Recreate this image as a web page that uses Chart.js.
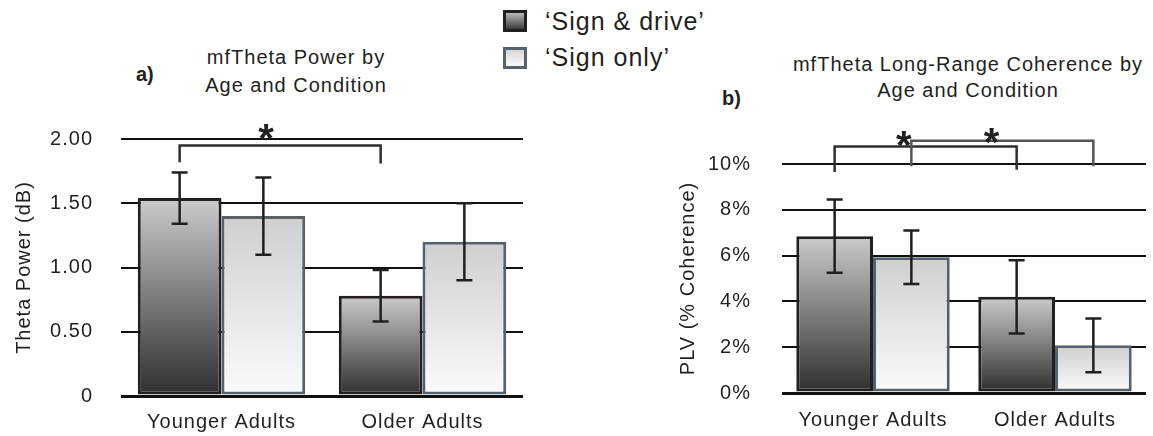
<!DOCTYPE html>
<html>
<head>
<meta charset="utf-8">
<title>mfTheta power and coherence by age and condition</title>
<script src="https://cdn.jsdelivr.net/npm/chart.js@4.4.0/dist/chart.umd.min.js"></script>
<style>
  html, body { margin: 0; padding: 0; background: #fff; }
  body { width: 1153px; height: 436px; position: relative; overflow: hidden;
         font-family: "Liberation Sans", Arial, Helvetica, sans-serif; color: #231f20; }
  .txt { position: absolute; white-space: nowrap; letter-spacing: 1px; }
  .title { font-size: 20px; text-align: center; transform: translateX(-50%); }
  .panel { font-size: 20px; font-weight: bold; letter-spacing: 0; }
  .key { position: absolute; left: 503px; width: 18px; height: 16px; border: 3px solid; }
  .key-text { font-size: 25px; line-height: 28px; left: 545px; }
  canvas { position: absolute; top: 0; }
</style>
</head>
<body>

<div class="txt panel" style="left:136px; top:63px">a)</div>
<div class="txt title" style="left:296px; top:43px; line-height:28px">mfTheta Power by<br>Age and Condition</div>

<div class="txt panel" style="left:722px; top:87px">b)</div>
<div class="txt title" style="left:968px; top:51px; line-height:26px">mfTheta Long-Range Coherence by<br>Age and Condition</div>

<!-- shared legend in the middle -->
<div class="key" style="top:10px; border-color:#231f20; background:linear-gradient(#b8b8b8, #3a3a3a)"></div>
<div class="txt key-text" style="top:7px">‘Sign &amp; drive’</div>
<div class="key" style="top:47px; border-color:#56616c; background:linear-gradient(#d6d6d6, #fafafa)"></div>
<div class="txt key-text" style="top:43px">‘Sign only’</div>

<canvas id="powerChart" width="545" height="436" style="left:0"></canvas>
<canvas id="plvChart" width="483" height="436" style="left:670px"></canvas>

<script>
const groups = ['Younger Adults', 'Older Adults'];
const seriesNames = ['‘Sign & drive’', '‘Sign only’'];

// a) mfTheta power, dB
const powerSignDrive = [1.54, 0.78];
const powerSignOnly = [1.40, 1.20];
const powerSignDriveErr = [0.20, 0.20];
const powerSignOnlyErr = [0.30, 0.30];
const powerTicks = ['0', '0.50', '1.00', '1.50', '2.00'];

// b) mfTheta long-range coherence, PLV in %
const plvSignDrive = [6.85, 4.20];
const plvSignOnly = [5.93, 2.08];
const plvSignDriveErr = [1.60, 1.60];
const plvSignOnlyErr = [1.17, 1.17];
const plvTicks = ['0%', '2%', '4%', '6%', '8%', '10%'];

// significance brackets: ends are [group, series], heights in axis units,
// star = where along the bracket the asterisk sits
const powerSig = [
  { from: [0, 0], to: [1, 0], top: 1.95, legs: [1.82, 1.81], star: 0.43, starY: 2.08 }
];
const plvSig = [
  { from: [0, 0], to: [1, 0], top: 10.76, legs: [9.65, 9.75], star: 0.38, starY: 11.22 },
  { from: [0, 1], to: [1, 1], top: 11.02, legs: [9.90, 9.90], star: 0.44, starY: 11.37 }
];

const INK = '#231f20';
Chart.defaults.font.family = '"Liberation Sans", Arial, Helvetica, sans-serif';
Chart.defaults.color = INK;

// vertical gradient per bar, light at the top, from the bar top down to zero
function barGradient(topColor, bottomColor) {
  return (c) => {
    const y = c.chart.scales.y;
    if (!y || c.type !== 'data') return bottomColor;
    const top = y.getPixelForValue(c.raw);
    const bottom = y.getPixelForValue(0);
    if (!isFinite(top) || !isFinite(bottom) || top === bottom) return bottomColor;
    const g = c.chart.ctx.createLinearGradient(0, top, 0, bottom);
    g.addColorStop(0, topColor);
    g.addColorStop(1, bottomColor);
    return g;
  };
}

const spacing = {
  id: 'spacing',
  beforeDraw(chart) { chart.ctx.letterSpacing = '1px'; }
};

// error bars + significance brackets, placed from the bars and the y scale
function markings(errors, brackets, bracketColors) {
  return {
    id: 'markings',
    afterDatasetsDraw(chart) {
      const { ctx } = chart;
      const y = chart.scales.y;
      ctx.save();
      ctx.letterSpacing = '0px';
      ctx.strokeStyle = INK;
      ctx.lineWidth = 2.5;
      errors.forEach((errs, di) => {
        const values = chart.data.datasets[di].data;
        chart.getDatasetMeta(di).data.forEach((bar, i) => {
          const hi = y.getPixelForValue(values[i] + errs[i]);
          const lo = y.getPixelForValue(values[i] - errs[i]);
          ctx.beginPath();
          ctx.moveTo(bar.x, hi); ctx.lineTo(bar.x, lo);
          ctx.moveTo(bar.x - 8, hi); ctx.lineTo(bar.x + 8, hi);
          ctx.moveTo(bar.x - 8, lo); ctx.lineTo(bar.x + 8, lo);
          ctx.stroke();
        });
      });

      brackets.forEach((b, k) => {
        const x1 = chart.getDatasetMeta(b.from[1]).data[b.from[0]].x;
        const x2 = chart.getDatasetMeta(b.to[1]).data[b.to[0]].x;
        const top = y.getPixelForValue(b.top);
        ctx.strokeStyle = bracketColors[k];
        ctx.lineWidth = 2.5;
        ctx.beginPath();
        ctx.moveTo(x1, y.getPixelForValue(b.legs[0]));
        ctx.lineTo(x1, top);
        ctx.lineTo(x2, top);
        ctx.lineTo(x2, y.getPixelForValue(b.legs[1]));
        ctx.stroke();

        ctx.fillStyle = INK;
        ctx.font = 'bold 40px "Liberation Sans", Arial, sans-serif';
        ctx.textAlign = 'center';
        ctx.textBaseline = 'alphabetic';
        ctx.fillText('*', x1 + (x2 - x1) * b.star, y.getPixelForValue(b.starY) + 23);
      });
      ctx.restore();
    }
  };
}

function makeChart(id, o) {
  const ctx = document.getElementById(id).getContext('2d');
  return new Chart(ctx, {
    type: 'bar',
    data: {
      labels: groups,
      datasets: [
        {
          label: seriesNames[0],
          data: o.driveValues,
          backgroundColor: barGradient('#cbcbcb', '#2e2e2e'),
          borderColor: INK,
          borderWidth: 3,
          borderSkipped: false
        },
        {
          label: seriesNames[1],
          data: o.onlyValues,
          backgroundColor: barGradient('#cfcfcf', '#fbfbfb'),
          borderColor: '#56616c',
          borderWidth: 3,
          borderSkipped: false
        }
      ]
    },
    options: {
      responsive: false,
      animation: false,
      categoryPercentage: o.catPct,
      barPercentage: 1.0,
      layout: { padding: o.padding },
      plugins: { legend: { display: false }, tooltip: { enabled: false } },
      scales: {
        x: {
          grid: { display: false },
          border: { display: false },
          ticks: { font: { size: 20 }, padding: o.xPad, color: INK },
          afterFit: (s) => { s.height = o.xHeight; }
        },
        y: {
          min: 0,
          max: o.max,
          ticks: {
            stepSize: o.step,
            font: { size: 20 },
            padding: o.yPad,
            color: INK,
            callback: (v, i) => o.tickLabels[i]
          },
          grid: {
            color: '#111',
            lineWidth: (c) => (c.tick && c.tick.value === 0 ? 3 : 2),
            drawTicks: false
          },
          border: { display: false },
          title: {
            display: true,
            text: o.yTitle,
            font: { size: 20 },
            color: INK,
            padding: { top: o.titlePad, bottom: 0 }
          },
          afterFit: (s) => { s.width = o.yWidth; }
        }
      }
    },
    plugins: [spacing, markings(o.errors, o.brackets, o.bracketColors)]
  });
}

makeChart('powerChart', {
  driveValues: powerSignDrive,
  onlyValues: powerSignOnly,
  errors: [powerSignDriveErr, powerSignOnlyErr],
  brackets: powerSig,
  bracketColors: ['#2f2f2f'],
  tickLabels: powerTicks,
  max: 2, step: 0.5,
  yTitle: 'Theta Power (dB)',
  catPct: 0.833,
  padding: { top: 139, right: 22, bottom: 0, left: 0 },
  yWidth: 121, yPad: 28, titlePad: 12,
  xHeight: 37, xPad: 6
});

makeChart('plvChart', {
  driveValues: plvSignDrive,
  onlyValues: plvSignOnly,
  errors: [plvSignDriveErr, plvSignOnlyErr],
  brackets: plvSig,
  bracketColors: ['#2f2f2f', '#555'],
  tickLabels: plvTicks,
  max: 10, step: 2,
  yTitle: 'PLV (% Coherence)',
  catPct: 0.843,
  padding: { top: 164, right: 7, bottom: 0, left: 0 },
  yWidth: 112, yPad: 31, titlePad: 6,
  xHeight: 40, xPad: 7
});
</script>
</body>
</html>
